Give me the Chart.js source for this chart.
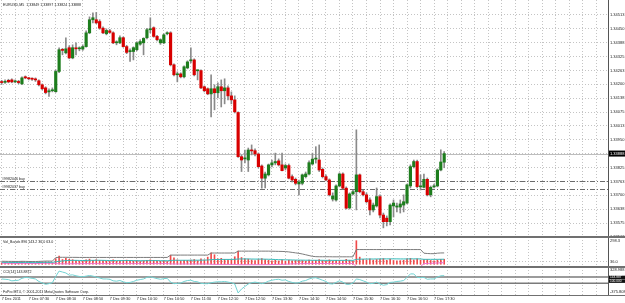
<!DOCTYPE html>
<html lang="en">
<head>
<meta charset="UTF-8" />
<title>EURUSD,M5</title>
<script src="https://cdn.jsdelivr.net/npm/chart.js"></script>
<style>
  body { margin: 0; background: #ffffff; }
  #wrap { position: relative; width: 625px; height: 303px; }
</style>
</head>
<body>
<div id="wrap"><canvas id="chart" width="625" height="303"></canvas></div>
<script>
// ---- data (EURUSD M5, 7 Dec 2011, 06:50 - 17:45) ----
const SLOTS = 180; // bar slots across the plot, chart shift leaves the right side empty

const opens = [
  1.34209,1.34209,1.34218,1.34220,1.34211,1.34213,1.34202,1.34234,1.34229,1.34225,1.34223,1.34216,1.34198,1.34184,1.34166,1.34171,
  1.34167,1.34258,1.34356,1.34342,1.34365,1.34319,1.34362,1.34360,1.34359,1.34370,1.34432,1.34491,1.34491,1.34483,1.34453,1.34428,
  1.34441,1.34432,1.34387,1.34387,1.34410,1.34370,1.34347,1.34348,1.34356,1.34381,1.34387,1.34410,1.34446,1.34455,1.34416,1.34387,
  1.34387,1.34428,1.34432,1.34288,1.34243,1.34247,1.34234,1.34274,1.34306,1.34310,1.34261,1.34262,1.34189,1.34180,1.34157,1.34180,
  1.34162,1.34189,1.34171,1.34184,1.34148,1.34130,1.34073,1.33874,1.33864,1.33859,1.33904,1.33901,1.33886,1.33832,1.33777,1.33792,
  1.33837,1.33846,1.33855,1.33837,1.33823,1.33834,1.33784,1.33772,1.33751,1.33754,1.33784,1.33796,1.33841,1.33863,1.33859,1.33817,
  1.33784,1.33769,1.33683,1.33679,1.33742,1.33796,1.33732,1.33643,1.33706,1.33716,1.33792,1.33716,1.33702,1.33679,1.33634,1.33652,
  1.33694,1.33611,1.33597,1.33581,1.33652,1.33647,1.33647,1.33656,1.33665,1.33742,1.33829,1.33852,1.33738,1.33736,1.33772,1.33702,
  1.33738,1.33742,1.33814,1.33849
];
const highs = [
  1.34218,1.34220,1.34223,1.34225,1.34220,1.34218,1.34234,1.34238,1.34231,1.34229,1.34229,1.34220,1.34202,1.34189,1.34180,1.34184,
  1.34265,1.34365,1.34362,1.34410,1.34374,1.34378,1.34387,1.34369,1.34378,1.34441,1.34504,1.34522,1.34524,1.34491,1.34459,1.34450,
  1.34448,1.34437,1.34396,1.34419,1.34414,1.34376,1.34360,1.34369,1.34392,1.34401,1.34410,1.34452,1.34500,1.34459,1.34421,1.34405,
  1.34428,1.34437,1.34437,1.34292,1.34256,1.34252,1.34283,1.34306,1.34365,1.34315,1.34265,1.34265,1.34193,1.34184,1.34243,1.34198,
  1.34207,1.34220,1.34225,1.34193,1.34166,1.34148,1.34076,1.33882,1.33904,1.33913,1.33927,1.33909,1.33891,1.33837,1.33805,1.33841,
  1.33859,1.33890,1.33864,1.33890,1.33841,1.33841,1.33792,1.33778,1.33769,1.33796,1.33805,1.33855,1.33890,1.33919,1.33927,1.33823,
  1.33792,1.33774,1.33711,1.33747,1.33801,1.33801,1.33738,1.33711,1.33724,1.33995,1.33796,1.33724,1.33711,1.33688,1.33665,1.33733,
  1.33702,1.33620,1.33607,1.33661,1.33679,1.33665,1.33679,1.33702,1.33751,1.33837,1.33859,1.33859,1.33792,1.33796,1.33778,1.33742,
  1.33751,1.33819,1.33905,1.33897
];
const lows = [
  1.34200,1.34204,1.34207,1.34207,1.34207,1.34202,1.34198,1.34225,1.34220,1.34218,1.34213,1.34193,1.34175,1.34157,1.34145,1.34166,
  1.34164,1.34252,1.34333,1.34337,1.34315,1.34315,1.34333,1.34351,1.34353,1.34367,1.34428,1.34477,1.34473,1.34448,1.34428,1.34423,
  1.34430,1.34383,1.34378,1.34383,1.34367,1.34338,1.34303,1.34310,1.34351,1.34376,1.34333,1.34405,1.34432,1.34412,1.34396,1.34380,
  1.34383,1.34423,1.34283,1.34238,1.34211,1.34229,1.34229,1.34270,1.34297,1.34238,1.34220,1.34180,1.34166,1.34153,1.34053,1.34085,
  1.34139,1.34098,1.34112,1.34130,1.34112,1.34071,1.33871,1.33807,1.33846,1.33807,1.33882,1.33877,1.33823,1.33732,1.33733,1.33787,
  1.33828,1.33837,1.33832,1.33810,1.33814,1.33774,1.33760,1.33747,1.33702,1.33747,1.33778,1.33792,1.33837,1.33845,1.33807,1.33778,
  1.33765,1.33697,1.33674,1.33674,1.33738,1.33729,1.33638,1.33638,1.33702,1.33634,1.33711,1.33697,1.33665,1.33611,1.33625,1.33647,
  1.33598,1.33553,1.33562,1.33566,1.33602,1.33625,1.33620,1.33625,1.33661,1.33733,1.33823,1.33733,1.33724,1.33733,1.33697,1.33693,
  1.33733,1.33738,1.33810,1.33824
];
const closes = [
  1.34208,1.34213,1.34211,1.34211,1.34213,1.34208,1.34229,1.34229,1.34225,1.34223,1.34220,1.34198,1.34180,1.34163,1.34171,1.34175,
  1.34258,1.34356,1.34353,1.34360,1.34319,1.34365,1.34360,1.34362,1.34370,1.34432,1.34491,1.34500,1.34477,1.34453,1.34432,1.34443,
  1.34434,1.34387,1.34388,1.34410,1.34370,1.34344,1.34352,1.34365,1.34387,1.34393,1.34407,1.34446,1.34448,1.34416,1.34401,1.34401,
  1.34423,1.34432,1.34288,1.34243,1.34245,1.34234,1.34279,1.34301,1.34310,1.34243,1.34262,1.34184,1.34171,1.34157,1.34180,1.34162,
  1.34189,1.34171,1.34184,1.34148,1.34130,1.34076,1.33874,1.33859,1.33868,1.33904,1.33900,1.33886,1.33829,1.33777,1.33796,1.33837,
  1.33846,1.33852,1.33837,1.33811,1.33834,1.33777,1.33769,1.33754,1.33760,1.33792,1.33796,1.33847,1.33863,1.33864,1.33814,1.33784,
  1.33769,1.33702,1.33697,1.33742,1.33796,1.33732,1.33642,1.33706,1.33716,1.33792,1.33716,1.33702,1.33671,1.33634,1.33656,1.33694,
  1.33611,1.33581,1.33581,1.33656,1.33665,1.33652,1.33661,1.33671,1.33747,1.33829,1.33852,1.33739,1.33742,1.33772,1.33702,1.33736,
  1.33742,1.33814,1.33850,1.33888
];

// Vol_Bands window: tick volume histogram and its three band lines
const volumes = [
  18,22,15,20,12,16,30,14,12,10,14,25,28,30,22,18,
  70,102,60,75,62,58,45,40,38,55,65,50,58,48,45,40,
  35,55,38,42,50,52,48,40,45,35,44,50,56,48,40,38,
  45,36,114,80,55,45,50,48,52,60,46,70,55,90,143,120,
  70,75,62,60,58,95,168,85,70,65,55,45,60,72,58,52,
  44,50,42,55,40,52,44,48,50,46,40,52,45,48,58,46,
  40,55,42,50,48,44,62,50,40,298.3,90,62,55,70,52,60,
  66,72,50,64,48,42,46,50,68,75,55,70,52,58,60,48,
  44,56,62,63
];
const upperBand = [
  38,37,36,36,35,35,37,36,35,34,34,36,38,40,40,39,
  84,88,88,88,87,87,87,86,86,86,86,86,86,86,86,86,
  86,86,86,86,86,86,86,86,86,86,86,86,86,86,86,86,
  86,86,116,116,116,116,116,116,116,116,116,116,116,116,142,142,
  142,142,142,142,142,142,166,166,166,166,166,166,166,166,166,166,
  165,164,163,162,160,156,150,144,138,130,120,110,100,96,95,95,
  95,95,94,94,94,94,94,94,94,186,186,186,186,186,186,186,
  186,186,186,186,186,186,186,186,186,186,186,186,186,140,136,134,
  134,140,143,143.2
];
const middleBand = [
  24,24,23,23,22,22,23,23,22,21,21,22,23,24,24,24,
  30,38,42,46,48,49,49,48,47,48,49,49,50,50,49,48,
  47,47,46,46,46,47,47,46,45,45,45,45,46,46,46,45,
  45,44,48,50,50,50,50,50,51,51,51,52,52,54,58,60,
  60,61,61,61,61,62,66,67,67,67,66,65,65,65,64,63,
  62,60,58,57,56,55,54,53,52,52,51,51,50,50,50,50,
  49,49,49,49,49,49,50,50,49,62,64,65,66,66,66,67,
  67,68,68,68,68,68,67,67,67,68,68,68,67,62,62,62,
  62,62,63,63
];
const lowerBand = [
  12,12,11,11,10,10,11,11,10,9,9,10,11,12,12,12,
  8,6,5,5,6,6,7,7,7,8,8,8,8,8,8,8,
  8,8,8,8,8,8,8,8,8,8,8,8,8,8,8,8,
  8,8,4,3,3,3,3,3,3,3,3,3,3,3,0,-2,
  -2,-2,-2,-2,-2,-2,-6,-6,-6,-6,-6,-6,-6,-6,-5,-5,
  -4,-3,-2,-1,0,2,4,5,6,7,8,8,9,9,9,9,
  9,9,9,9,9,9,9,9,9,-30,-30,-30,-30,-30,-30,-30,
  -30,-30,-30,-30,-30,-30,-30,-30,-30,-30,-30,-30,-30,8,10,12,
  14,16,18,20
];

// CCI(14) window
const cciValues = [
  40,30,20,-20,-10,0,60,90,80,60,40,-40,-90,-130,-110,-80,
  120,290,260,230,160,170,140,120,110,130,150,130,100,70,40,40,
  30,-20,-30,-10,-50,-80,-70,-40,0,20,40,90,110,80,50,30,
  50,60,-60,-110,-100,-90,-40,-10,0,-40,-50,-100,-110,-110,-80,-60,
  -50,-50,-40,-60,-80,-120,-405,-280,-200,-120,-80,-60,-80,-110,-80,-30,
  0,20,30,0,10,-40,-70,-90,-80,-30,-10,40,70,80,40,0,
  -40,-110,-120,-70,-20,-60,-130,-130,-90,40,20,-20,-60,-110,-100,-60,
  -120,-160,-140,-70,-60,-40,-30,-10,90,200,200,90,80,90,30,40,
  40,100,140,143.8872
];
const cciLevels = [100, -100];

// axis ticks
const priceTicks = [1.345125,1.3445,1.343875,1.34325,1.342625,1.342,1.341375,1.34075,1.340125,1.3395,1.338875,1.33825,1.337625,1.337,1.336375,1.33575,1.335125];
const priceTickLabels = ['1.34513','1.34450','1.34388','1.34325','1.34263','1.34200','1.34138','1.34075','1.34013','1.33950','1.33888','1.33825','1.33763','1.33700','1.33638','1.33575','1.33513'];
const volTicks = [298.3, 36.0];
const volTickLabels = ['298.3', '36.0'];
const cciTicks = [328.988, -375.808];
const cciTickLabels = ['328.988', '-375.808'];
const timeLabels = ['7 Dec 2011','7 Dec 07:30','7 Dec 08:10','7 Dec 08:50','7 Dec 09:30','7 Dec 10:10','7 Dec 10:50','7 Dec 11:30','7 Dec 12:10','7 Dec 12:50','7 Dec 13:30','7 Dec 14:10','7 Dec 14:50','7 Dec 15:30','7 Dec 16:10','7 Dec 16:50','7 Dec 17:30'];

// open orders shown on the chart
const orderLines = [
  { price: 1.33764, label: '#9982046 buy' },
  { price: 1.33727, label: '#9982037 buy' }
];
const bidPrice = 1.33888;

const symbolTitle = 'EURUSD,M5  1.33849 1.33897 1.33824 1.33888';
const volTitle = 'Vol_Bands 896 143.2 36.0 63.0';
const cciTitle = 'CCI(14) 143.8872';
const copyrightText = 'FxPro MT4, \u00a9 2001-2011 MetaQuotes Software Corp.';

// ---- chart ----
Chart.defaults.font.family = '"Liberation Sans", Arial, sans-serif';
Chart.defaults.font.size = 4;
Chart.defaults.color = '#222';

const GRID = '#c4c4c4';
const bodyColors = opens.map((o, i) => closes[i] >= o ? '#1d7d1d' : '#d80000');

function fixAxisBox(scale) {
  scale.width = 17;
  scale.paddingTop = 0;
  scale.paddingBottom = 0;
}

const mt4Overlay = {
  id: 'mt4Overlay',
  beforeDatasetsDraw(chart) {
    const { ctx, chartArea, scales } = chart;
    ctx.save();
    ctx.lineWidth = 1;
    // bid line
    let y = Math.round(scales.y.getPixelForValue(bidPrice)) + 0.5;
    ctx.strokeStyle = '#bdbdbd';
    ctx.beginPath(); ctx.moveTo(chartArea.left, y); ctx.lineTo(chartArea.right, y); ctx.stroke();
    // order lines, dash-dot
    ctx.strokeStyle = '#6a6a6a';
    ctx.setLineDash([5, 2, 1, 2]);
    orderLines.forEach(o => {
      const yo = Math.round(scales.y.getPixelForValue(o.price)) + 0.5;
      ctx.beginPath(); ctx.moveTo(chartArea.left, yo); ctx.lineTo(chartArea.right, yo); ctx.stroke();
    });
    ctx.setLineDash([]);
    // CCI levels
    ctx.strokeStyle = '#7a7a7a';
    ctx.lineWidth = 1.5;
    cciLevels.forEach(v => {
      const yl = scales.yCci.getPixelForValue(v);
      ctx.beginPath(); ctx.moveTo(chartArea.left, yl); ctx.lineTo(chartArea.right, yl); ctx.stroke();
    });
    ctx.restore();
  },
  afterDraw(chart) {
    const { ctx, chartArea, scales, width } = chart;
    ctx.save();
    // window separators
    ctx.fillStyle = '#707070';
    ctx.fillRect(0, scales.yVol.top - 1, width, 2);
    ctx.fillRect(0, scales.yCci.top - 1, width, 2);
    ctx.fillRect(0, chartArea.bottom, width, 1);

    // window captions
    ctx.fillStyle = '#1a1a1a';
    ctx.font = '3.6px "Liberation Sans", Arial, sans-serif';
    ctx.textBaseline = 'middle';
    ctx.textAlign = 'left';
    ctx.fillText(symbolTitle, 3, 5);
    ctx.fillText(volTitle, 3, scales.yVol.top + 5);
    ctx.fillText(cciTitle, 3, scales.yCci.top + 5);
    ctx.fillText(copyrightText, 3, chartArea.bottom - 3);
    orderLines.forEach(o => {
      const yo = scales.y.getPixelForValue(o.price);
      ctx.fillText(o.label, 2, yo - 2.2);
    });

    // price boxes on the right scale
    ctx.font = '4px "Liberation Sans", Arial, sans-serif';
    const x0 = chartArea.right;
    const yb = scales.y.getPixelForValue(bidPrice);
    ctx.fillStyle = '#000';
    ctx.fillRect(x0 + 1, yb - 3, width - x0 - 1, 6);
    ctx.fillStyle = '#fff';
    ctx.fillText('1.33888', x0 + 2, yb);

    const yc = scales.yCci.getPixelForValue(cciValues[cciValues.length - 1]) + 1.8;
    ctx.fillStyle = '#111';
    ctx.fillRect(x0 + 1, yc - 1.8, width - x0 - 1, 3.5);
    ctx.fillRect(x0 + 1, yc + 1.9, width - x0 - 1, 3.5);
    ctx.fillStyle = '#fff';
    ctx.font = '3.2px "Liberation Sans", Arial, sans-serif';
    ctx.fillText('143.887', x0 + 2, yc);
    ctx.fillText('100.000', x0 + 2, yc + 3.6);
    ctx.restore();
  }
};

new Chart(document.getElementById('chart'), {
  type: 'bar',
  data: {
    labels: Array.from({ length: SLOTS }, (_, i) => i),
    datasets: [
      { type: 'bar', label: 'body', data: opens.map((o, i) => [o, closes[i]]), backgroundColor: bodyColors,
        barThickness: 2.5, minBarLength: 1, grouped: false, yAxisID: 'y', order: 1 },
      { type: 'bar', label: 'wick', data: lows.map((l, i) => [l, highs[i]]), backgroundColor: '#8a8a8a',
        barThickness: 1, grouped: false, yAxisID: 'y', order: 2 },
      { type: 'bar', label: 'volume', data: volumes, backgroundColor: '#f04a4a',
        barThickness: 1, grouped: false, yAxisID: 'yVol', order: 3 },
      { type: 'line', label: 'upper', data: upperBand, borderColor: '#7c7c7c', borderWidth: 1,
        pointRadius: 0, tension: 0, yAxisID: 'yVol', order: 0 },
      { type: 'line', label: 'middle', data: middleBand, borderColor: '#35b9b9', borderWidth: 1,
        pointRadius: 0, tension: 0, yAxisID: 'yVol', order: 0 },
      { type: 'line', label: 'lower', data: lowerBand, borderColor: '#ee77d4', borderWidth: 1,
        pointRadius: 0, tension: 0, yAxisID: 'yVol', order: 0 },
      { type: 'line', label: 'cci', data: cciValues, borderColor: '#72d3d3', borderWidth: 1,
        pointRadius: 0, tension: 0, yAxisID: 'yCci', order: 0 }
    ]
  },
  options: {
    responsive: false,
    devicePixelRatio: 1,
    animation: false,
    events: [],
    layout: { padding: 0 },
    plugins: { legend: { display: false }, tooltip: { enabled: false } },
    scales: {
      x: {
        type: 'category',
        offset: true,
        grid: { offset: false, drawTicks: false, color: c => c.index % 4 === 0 ? GRID : 'rgba(0,0,0,0)' },
        border: { display: false, dash: [1, 2] },
        ticks: {
          autoSkip: false, maxRotation: 0, minRotation: 0, align: 'start', padding: 2,
          font: { size: 3.8 },
          callback: (v, i) => (i % 8 === 0 && timeLabels[i / 8]) ? timeLabels[i / 8] : ''
        },
        afterFit: s => { s.height = 8; s.paddingLeft = 0; s.paddingRight = 0; }
      },
      y: {
        type: 'linear', position: 'right', stack: 'panes', stackWeight: 237,
        min: 1.33512, max: 1.34580,
        afterBuildTicks: s => { s.ticks = priceTicks.map(v => ({ value: v })); },
        ticks: { autoSkip: false, padding: 2, callback: (v, i) => priceTickLabels[i] },
        grid: { drawTicks: false, color: GRID },
        border: { color: '#555', dash: [1, 2] },
        afterFit: fixAxisBox
      },
      yVol: {
        type: 'linear', position: 'right', stack: 'panes', stackWeight: 30,
        min: -35, max: 345,
        afterBuildTicks: s => { s.ticks = volTicks.map(v => ({ value: v })); },
        ticks: { autoSkip: false, padding: 2, callback: (v, i) => volTickLabels[i] },
        grid: { drawTicks: false, color: c => (c.tick && c.tick.value === 36) ? GRID : 'rgba(0,0,0,0)' },
        border: { color: '#555', dash: [1, 2] },
        afterFit: fixAxisBox
      },
      yCci: {
        type: 'linear', position: 'right', stack: 'panes', stackWeight: 28,
        min: -470, max: 420,
        afterBuildTicks: s => { s.ticks = cciTicks.map(v => ({ value: v })); },
        ticks: { autoSkip: false, padding: 2, callback: (v, i) => cciTickLabels[i] },
        grid: { drawTicks: false, color: 'rgba(0,0,0,0)' },
        border: { color: '#555', dash: [1, 2] },
        afterFit: fixAxisBox
      }
    }
  },
  plugins: [mt4Overlay]
});
</script>
</body>
</html>
